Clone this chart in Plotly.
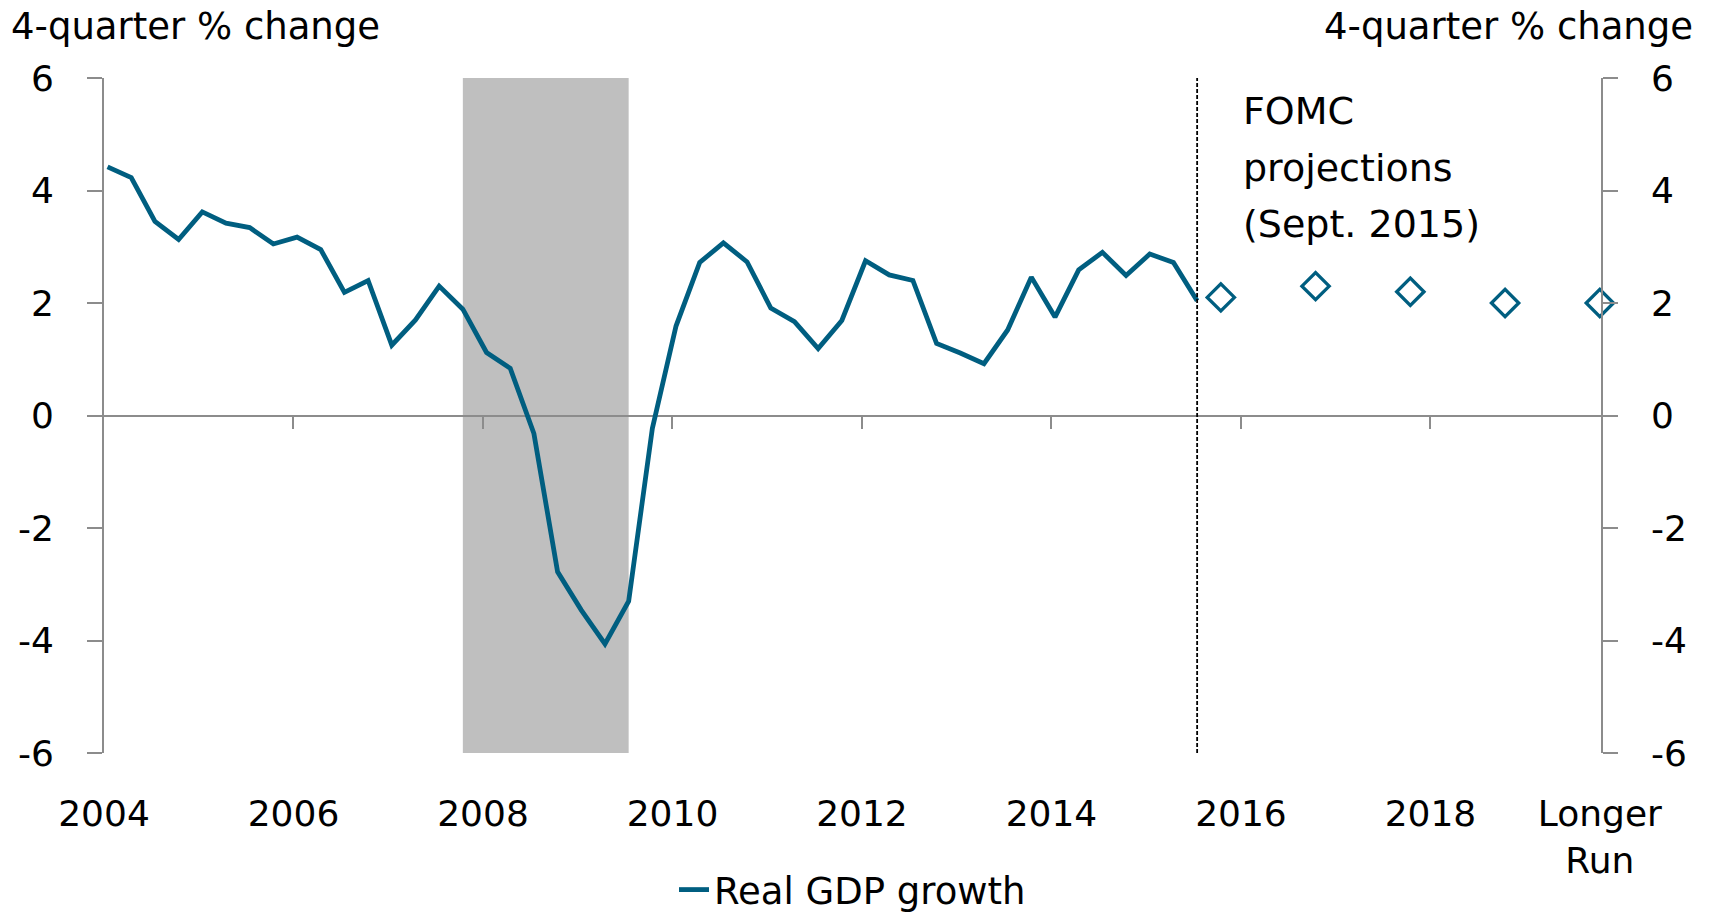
import plotly.graph_objects as go

# ---------------- data ----------------
quarters = [f"{y}Q{q}" for y in range(2004, 2016) for q in range(1, 5)][:47]  # 2004Q1 .. 2015Q3
gdp_growth = [4.42, 4.23, 3.45, 3.13, 3.62, 3.42, 3.34, 3.05, 3.17, 2.95,
              2.19, 2.40, 1.25, 1.70, 2.30, 1.89, 1.12, 0.84, -0.32, -2.78,
              -3.46, -4.06, -3.30, -0.23, 1.59, 2.72, 3.07, 2.73, 1.91, 1.67,
              1.19, 1.69, 2.75, 2.50, 2.40, 1.28, 1.11, 0.92, 1.52, 2.46,
              1.75, 2.59, 2.90, 2.49, 2.87, 2.72, 2.04]

proj_labels = ["2015", "2016", "2017", "2018", "Longer Run"]
proj_quarters = ["2015Q4", "2016Q4", "2017Q4", "2018Q4", "2019Q4"]
proj_values = [2.1, 2.3, 2.2, 2.0, 2.0]

tick_years = [2004, 2006, 2008, 2010, 2012, 2014, 2016, 2018]
tick_labels = ["2004", "2006", "2008", "2010", "2012", "2014", "2016", "2018"]
longer_run_label = "Longer<br>Run"

recession_start = "2007Q4"
recession_end = "2009Q3"

y_ticks = [-6, -4, -2, 0, 2, 4, 6]
y_ticktext = ["-6", "-4", "-2", "0", "2", "4", "6"]


def qindex(label):
    y, q = label.split("Q")
    return (int(y) - 2004) * 4 + int(q) - 1


TICK_SHIFT = -0.15  # year ticks sit slightly before the first-quarter observation
x_hist = [qindex(q) for q in quarters]
x_proj = [qindex(q) for q in proj_quarters]
tick_pos = [(y - 2004) * 4 + TICK_SHIFT for y in tick_years]
x_range = [TICK_SHIFT, x_proj[-1] + 0.05]

LINE_COLOR = "#005E80"
AXIS_COLOR = "#8C8C8C"
FONT = "DejaVu Sans"
FS = 36

fig = go.Figure()

fig.add_trace(go.Scatter(
    x=x_hist, y=gdp_growth, mode="lines", name="Real GDP growth",
    line=dict(color=LINE_COLOR, width=4.8), xaxis="x", yaxis="y",
    hoverinfo="skip"))

fig.add_trace(go.Scatter(
    x=x_proj, y=proj_values, mode="markers", name="FOMC projections",
    text=proj_labels,
    marker=dict(symbol="diamond-open", size=21, color=LINE_COLOR,
                line=dict(color=LINE_COLOR, width=3.3)),
    xaxis="x2", yaxis="y2", showlegend=False, hoverinfo="skip", cliponaxis=False))

# recession shading
fig.add_shape(type="rect", xref="x", yref="y",
              x0=qindex(recession_start), x1=qindex(recession_end),
              y0=y_ticks[0], y1=y_ticks[-1],
              fillcolor="#BFBFBF", line=dict(width=0), layer="below")

# projection divider
fig.add_shape(type="line", xref="x", yref="y",
              x0=x_hist[-1], x1=x_hist[-1], y0=y_ticks[0], y1=y_ticks[-1],
              line=dict(color="black", width=1.8, dash="4px,2px"), layer="above")

axis_common = dict(showline=True, linecolor=AXIS_COLOR, linewidth=1.6,
                   ticks="outside", tickcolor=AXIS_COLOR, tickwidth=1.6,
                   showgrid=False, zeroline=False)

fig.update_layout(
    width=1717, height=916,
    margin=dict(l=104, r=116, t=78, b=163, autoexpand=False),
    paper_bgcolor="white", plot_bgcolor="white",
    font=dict(family=FONT, size=FS, color="black"),
    showlegend=True,
    legend=dict(orientation="h", x=0.5, xanchor="center", y=-0.203, yanchor="middle",
                font=dict(size=37), itemwidth=30, bgcolor="rgba(0,0,0,0)"),
    xaxis=dict(range=x_range, tickmode="array",
               tickvals=tick_pos + [x_proj[-1]],
               ticktext=tick_labels + [longer_run_label],
               showline=False, ticks="", showgrid=False, zeroline=False,
               ticklabelstandoff=36, tickfont=dict(size=FS), automargin=False),
    xaxis2=dict(overlaying="x", matches="x", anchor="free", position=0.5,
                range=x_range, tickmode="array", tickvals=tick_pos[1:],
                showticklabels=False, ticklen=13, layer="below traces",
                **axis_common),
    yaxis=dict(range=[y_ticks[0], y_ticks[-1]], tickmode="array",
               tickvals=y_ticks, ticktext=y_ticktext, ticklen=15,
               ticklabelstandoff=26, tickfont=dict(size=FS), automargin=False,
               **axis_common),
    yaxis2=dict(overlaying="y", matches="y", side="right", anchor="x",
                range=[y_ticks[0], y_ticks[-1]], tickmode="array",
                tickvals=y_ticks, ticktext=y_ticktext, ticklen=15,
                ticklabelstandoff=26, tickfont=dict(size=FS), automargin=False,
                **axis_common),
)

annotations = [
    dict(text="4-quarter % change", xref="paper", yref="paper",
         x=-0.0635, y=1.0756, xanchor="left", yanchor="middle", showarrow=False,
         font=dict(size=37)),
    dict(text="4-quarter % change", xref="paper", yref="paper",
         x=1.0628, y=1.0756, xanchor="right", yanchor="middle", showarrow=False,
         font=dict(size=37)),
]
for line, yy in zip(["FOMC", "projections", "(Sept. 2015)"], [0.951, 0.867, 0.784]):
    annotations.append(dict(text=line, xref="paper", yref="paper", x=0.7595, y=yy,
                            xanchor="left", yanchor="middle", showarrow=False,
                            font=dict(size=38)))
fig.update_layout(annotations=annotations)

fig.write_html("out.html", config={"displayModeBar": False},
               post_script="document.body.style.margin='0';")
